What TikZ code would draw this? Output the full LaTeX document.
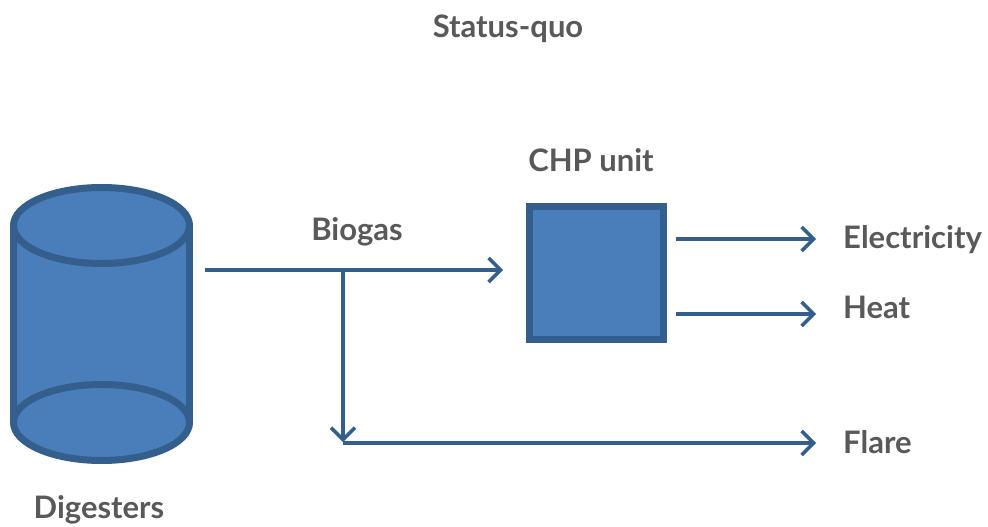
\documentclass[tikz,border=0pt]{standalone}
\usepackage{fontspec}
\setmainfont{Lato}
\usetikzlibrary{arrows.meta}
\definecolor{fillblue}{HTML}{4A7EBB}
\definecolor{edgeblue}{HTML}{345E8C}
\definecolor{txtgray}{HTML}{595959}
\begin{document}
\begin{tikzpicture}[x=1pt,y=-1pt,
  lbl/.style={text=txtgray,font=\bfseries\fontsize{31}{33}\selectfont,inner sep=0pt},
  flow/.style={draw=edgeblue,line width=4pt,-{Straight Barb[length=12pt,width=24pt,line width=3.5pt]}},
  shapeline/.style={draw=edgeblue,fill=fillblue,line width=7pt}]
\useasboundingbox (0,0) rectangle (988,527);
% cylinder
\fill[fillblue] (13.5,225.5) -- (13.5,422.5) arc[start angle=180,end angle=360,x radius=88,y radius=38] -- (189.5,225.5) -- cycle;
\draw[shapeline] (101.5,422.5) ellipse[x radius=88,y radius=38];
\draw[edgeblue,line width=7pt] (13.5,225.5) -- (13.5,422.5) (189.5,225.5) -- (189.5,422.5);
\draw[shapeline] (101.5,225.5) ellipse[x radius=88,y radius=38];
\coordinate (dig) at (205,270);
% CHP box
\node[shapeline,minimum width=134pt,minimum height=133pt,inner sep=0pt,anchor=north west] (chp) at (525.5,202.5) {};
% coordinates
\coordinate (branch) at (343,270);
\coordinate (chpin) at (503,270);
\coordinate (flarecorner) at (343,443);
\coordinate (eS) at (676,239);
\coordinate (eE) at (816,239);
\coordinate (hS) at (676,314);
\coordinate (hE) at (816,314);
\coordinate (fE) at (816,443);
\coordinate (dn) at (343,442);
% labels
\node[lbl,anchor=base] (title) at (508,38) {Status-quo};
\node[lbl,anchor=base] (chplabel) at (591,171) {CHP unit};
\node[lbl,anchor=base] (biogas) at (357,240) {Biogas};
\node[lbl,anchor=base] (digesters) at (99,518) {Digesters};
\node[lbl,anchor=base west] (elec) at (843,248) {Electricity};
\node[lbl,anchor=base west] (heat) at (843,318) {Heat};
\node[lbl,anchor=base west] (flare) at (843,453) {Flare};
% connectors
\draw[flow] (dig) -- (chpin);
\draw[flow] (branch) -- (dn);
\draw[flow] (flarecorner) -- (fE);
\draw[flow] (eS) -- (eE);
\draw[flow] (hS) -- (hE);
\end{tikzpicture}
\end{document}
